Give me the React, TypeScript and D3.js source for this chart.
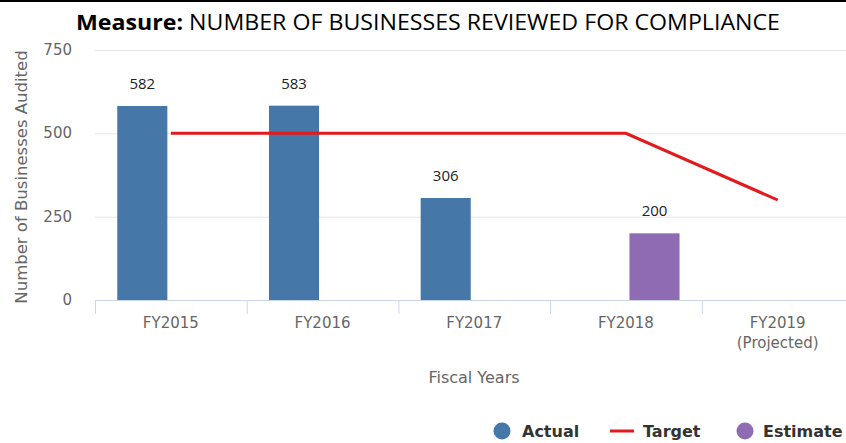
import { useEffect, useRef } from 'react';
import * as d3 from 'd3';

const categories = ['FY2015', 'FY2016', 'FY2017', 'FY2018', 'FY2019'];
const tickLabels = [['FY2015'], ['FY2016'], ['FY2017'], ['FY2018'], ['FY2019', '(Projected)']];
const actual: (number | null)[] = [582, 583, 306, null, null];
const estimate: (number | null)[] = [null, null, null, 200, null];
const target = [500, 500, 500, 500, 300];
const yTicks = [0, 250, 500, 750];

const width = 846;
const height = 443;

export default function App() {
  const svgRef = useRef<SVGSVGElement>(null);

  useEffect(() => {
    document.body.style.margin = '0';
    const svg = d3.select(svgRef.current);
    svg.selectAll('*').remove();

    const tickFont = 'DejaVu Sans, sans-serif';

    const x = d3.scaleBand<string>().domain(categories).range([95, 853.5]).padding(0);
    const xSeries = d3.scaleBand<string>()
      .domain(['Actual', 'Estimate'])
      .range([0, x.bandwidth()])
      .paddingInner(0.123)
      .paddingOuter(0.39);
    const y = d3.scaleLinear().domain([0, 750]).range([300, 50]);

    // top border
    svg.append('rect').attr('x', 0).attr('y', 0).attr('width', width).attr('height', 2).attr('fill', '#000');

    // title
    const title = svg.append('text')
      .attr('x', 76)
      .attr('y', 30)
      .attr('textLength', 704)
      .attr('lengthAdjust', 'spacingAndGlyphs')
      .style('font-family', 'Open Sans, sans-serif')
      .style('font-size', '22px')
      .style('fill', '#000');
    title.append('tspan').style('font-weight', 'bold').text('Measure: ');
    title.append('tspan').text('NUMBER OF BUSINESSES REVIEWED FOR COMPLIANCE');

    // grid lines
    svg.selectAll('.grid')
      .data(yTicks.filter(d => d > 0))
      .enter().append('line')
      .attr('x1', 95)
      .attr('x2', width)
      .attr('y1', d => y(d) + 0.5)
      .attr('y2', d => y(d) + 0.5)
      .attr('stroke', '#e6e6e6')
      .attr('stroke-width', 1);

    // y tick labels
    svg.selectAll('.ytick')
      .data(yTicks)
      .enter().append('text')
      .attr('x', 72)
      .attr('y', d => y(d) + 5)
      .attr('text-anchor', 'end')
      .style('font-family', tickFont)
      .style('font-size', '15px')
      .style('fill', '#666')
      .text(d => d);

    // y axis title
    svg.append('text')
      .attr('transform', `translate(27,${(y(0) + y(750)) / 2 + 2}) rotate(-90)`)
      .attr('text-anchor', 'middle')
      .style('font-family', tickFont)
      .style('font-size', '16.5px')
      .style('fill', '#666')
      .text('Number of Businesses Audited');

    // bars
    const barData = [
      { key: 'Actual', values: actual, color: '#4577a9' },
      { key: 'Estimate', values: estimate, color: '#8e6bb3' },
    ];
    barData.forEach(s => {
      const pts = categories
        .map((c, i) => ({ c, v: s.values[i] }))
        .filter(d => d.v !== null) as { c: string; v: number }[];
      svg.selectAll(`.bar-${s.key}`)
        .data(pts)
        .enter().append('rect')
        .attr('x', d => (x(d.c) || 0) + (xSeries(s.key) || 0))
        .attr('y', d => y(d.v))
        .attr('width', xSeries.bandwidth())
        .attr('height', d => y(0) - y(d.v))
        .attr('fill', s.color);
      svg.selectAll(`.lbl-${s.key}`)
        .data(pts)
        .enter().append('text')
        .attr('x', d => (x(d.c) || 0) + (xSeries(s.key) || 0) + xSeries.bandwidth() / 2)
        .attr('y', d => y(d.v) - 17)
        .attr('text-anchor', 'middle')
        .style('font-family', 'Open Sans, sans-serif')
        .style('font-size', '15px')
        .style('fill', '#222')
        .text(d => d.v);
    });

    // x axis
    svg.append('line')
      .attr('x1', 95).attr('x2', width)
      .attr('y1', 300.5).attr('y2', 300.5)
      .attr('stroke', '#ccd6eb').attr('stroke-width', 1);
    svg.selectAll('.xtick')
      .data(categories)
      .enter().append('line')
      .attr('x1', d => (x(d) || 0) + 0.5)
      .attr('x2', d => (x(d) || 0) + 0.5)
      .attr('y1', 300)
      .attr('y2', 314)
      .attr('stroke', '#ccd6eb');

    const xl = svg.selectAll('.xlabel')
      .data(categories)
      .enter().append('text')
      .attr('x', d => (x(d) || 0) + x.bandwidth() / 2)
      .attr('y', 328)
      .attr('text-anchor', 'middle')
      .style('font-family', tickFont)
      .style('font-size', '15px')
      .style('fill', '#666');
    xl.each(function (_d, i) {
      d3.select(this).selectAll('tspan')
        .data(tickLabels[i])
        .enter().append('tspan')
        .attr('x', (x(categories[i]) || 0) + x.bandwidth() / 2)
        .attr('dy', (_t, j) => (j === 0 ? 0 : 20))
        .text(t => t);
    });

    svg.append('text')
      .attr('x', 474)
      .attr('y', 383)
      .attr('text-anchor', 'middle')
      .style('font-family', tickFont)
      .style('font-size', '16px')
      .style('fill', '#666')
      .text('Fiscal Years');

    // target line
    const line = d3.line<number>()
      .x((_d, i) => (x(categories[i]) || 0) + x.bandwidth() / 2)
      .y(d => y(d));
    svg.append('path')
      .datum(target)
      .attr('fill', 'none')
      .attr('stroke', '#e31a1c')
      .attr('stroke-width', 3)
      .attr('d', line);

    // legend
    const legend = svg.append('g').style('font-family', tickFont).style('font-size', '16px').style('font-weight', 'bold');
    legend.append('circle').attr('cx', 502).attr('cy', 431).attr('r', 8.5).attr('fill', '#4577a9');
    legend.append('text').attr('x', 522).attr('y', 437).style('fill', '#333').text('Actual');
    legend.append('line').attr('x1', 610).attr('x2', 634).attr('y1', 431).attr('y2', 431)
      .attr('stroke', '#e31a1c').attr('stroke-width', 3);
    legend.append('text').attr('x', 643).attr('y', 437).style('fill', '#333').text('Target');
    legend.append('circle').attr('cx', 745).attr('cy', 431).attr('r', 8.5).attr('fill', '#8e6bb3');
    legend.append('text').attr('x', 763).attr('y', 437).style('fill', '#333').text('Estimate');
  }, []);

  return <svg ref={svgRef} width={width} height={height} style={{ display: 'block', background: '#fff' }} />;
}
